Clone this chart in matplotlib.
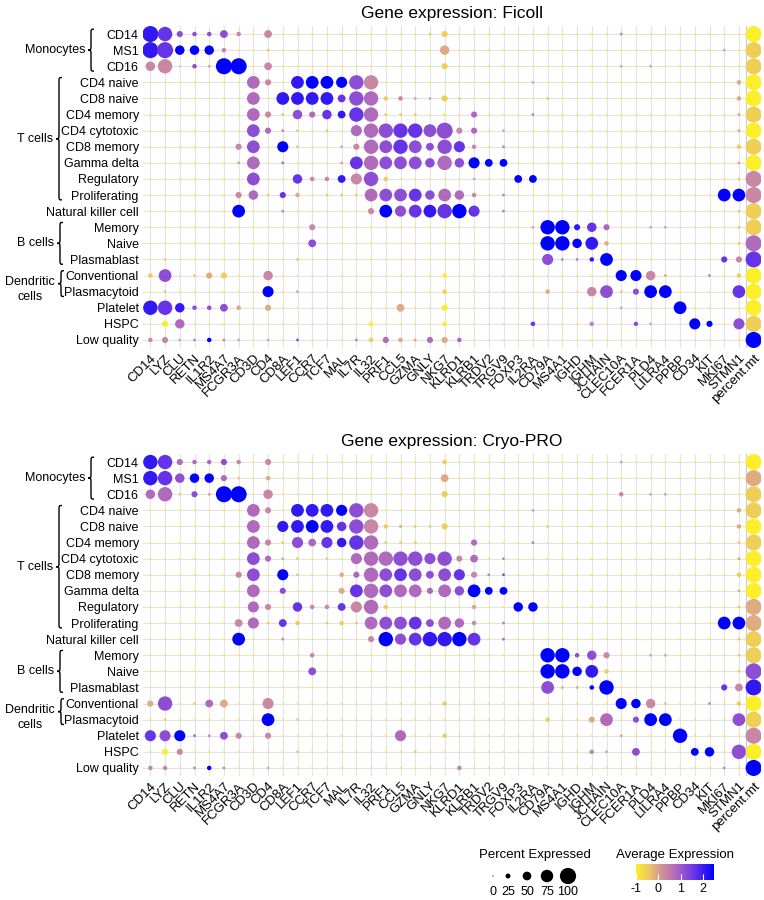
import numpy as np
import matplotlib
matplotlib.use('Agg')
import matplotlib.pyplot as plt
from matplotlib.colors import LinearSegmentedColormap, Normalize
from matplotlib.path import Path
from matplotlib.patches import PathPatch
from matplotlib.transforms import blended_transform_factory

plt.rcParams['font.family'] = ['Liberation Sans', 'DejaVu Sans']
plt.rcParams['axes.unicode_minus'] = False

GENES = ['CD14', 'LYZ', 'CLU', 'RETN', 'IL1R2', 'MS4A7', 'FCGR3A', 'CD3D', 'CD4', 'CD8A',
         'LEF1', 'CCR7', 'TCF7', 'MAL', 'IL7R', 'IL32', 'PRF1', 'CCL5', 'GZMA', 'GNLY',
         'NKG7', 'KLRD1', 'KLRB1', 'TRDV2', 'TRGV9', 'FOXP3', 'IL2RA', 'CD79A', 'MS4A1',
         'IGHD', 'IGHM', 'JCHAIN', 'CLEC10A', 'FCER1A', 'PLD4', 'LILRA4', 'PPBP', 'CD34',
         'KIT', 'MKI67', 'STMN1', 'percent.mt']
ROWS = ['CD14', 'MS1', 'CD16', 'CD4 naive', 'CD8 naive', 'CD4 memory', 'CD4 cytotoxic',
        'CD8 memory', 'Gamma delta', 'Regulatory', 'Proliferating', 'Natural killer cell',
        'Memory', 'Naive', 'Plasmablast', 'Conventional', 'Plasmacytoid', 'Platelet',
        'HSPC', 'Low quality']
GROUPS = [('Monocytes', 0, 2), ('T cells', 3, 10), ('B cells', 12, 14), ('Dendritic\ncells', 15, 16)]

# "col:SK" -> S = percent level (x11 %), K = expression level (-1 + K*0.4375); others tiny
FICOLL = [
    "0:97 1:86 2:35 3:25 4:25 5:45 6:23 8:43 19:11 20:31 32:13 41:90",
    "0:97 1:96 2:58 3:58 4:58 5:23 8:11 20:52 39:12 41:91",
    "0:53 1:83 2:01 3:25 4:12 5:98 6:98 8:43 20:31 32:12 34:12 41:91",
    "7:74 8:33 10:77 11:78 12:78 13:68 14:85 15:83 26:12 40:22 41:90",
    "7:74 9:77 10:77 11:77 12:77 13:46 14:85 15:84 16:21 17:23 18:12 19:12 20:31 21:11 27:11 40:22 41:90",
    "7:74 8:33 9:11 10:55 11:34 12:56 13:47 14:86 15:84 16:11 17:11 18:11 20:10 22:34 26:13 40:12 41:91",
    "7:75 8:34 9:13 10:11 12:11 14:64 15:84 16:85 17:86 18:86 19:75 20:95 21:33 22:34 24:12 40:12 41:90",
    "6:33 7:75 9:68 10:11 13:12 14:33 15:84 16:75 17:86 18:75 19:45 20:85 21:66 22:23 24:13 40:21 41:91",
    "6:12 7:74 9:14 13:12 14:76 15:84 16:75 17:75 18:75 19:55 20:84 21:55 22:68 23:48 24:48 40:12 41:90",
    "7:75 10:56 11:23 12:23 13:47 14:63 15:85 16:21 22:12 25:48 26:48 40:11 41:93",
    "6:33 7:54 8:11 9:36 10:22 12:11 13:11 14:11 15:74 16:75 17:75 18:76 19:55 20:74 21:54 22:23 24:13 39:78 40:78 41:93",
    "6:78 9:13 15:33 16:78 17:65 18:76 19:77 20:86 21:88 22:66 24:13 40:11 41:91",
    "11:33 26:12 27:88 28:88 29:37 30:56 31:34 34:12 35:12 40:11 41:91",
    "11:45 27:88 28:88 29:58 30:77 31:22 40:11 41:94",
    "1:11 10:11 27:65 28:13 29:13 30:27 31:78 39:36 40:33 41:96",
    "0:21 1:75 3:11 4:32 5:31 8:53 20:20 32:68 33:68 34:53 35:12 38:13 40:21 41:90",
    "1:11 8:68 10:12 20:21 27:22 30:53 31:75 32:11 33:35 34:78 35:78 40:76 41:90",
    "0:87 1:86 2:57 3:25 4:25 5:45 6:22 8:32 17:42 20:30 32:12 36:78 41:90",
    "1:30 2:54 15:20 20:20 26:26 30:23 33:25 34:12 37:68 38:38 40:65 41:91",
    "0:23 1:33 2:12 3:13 4:28 5:13 6:12 8:12 10:15 14:13 15:21 16:34 17:22 18:12 19:34 20:32 21:24 41:98",
]
CRYO = [
    "0:87 1:86 2:34 3:24 4:24 5:35 6:23 8:33 20:21 32:12 41:90",
    "0:87 1:86 2:55 3:58 4:58 5:34 6:11 8:22 20:42 41:92",
    "0:54 1:84 2:11 3:35 4:12 5:98 6:98 8:53 20:31 32:23 34:12 35:12 41:91",
    "7:74 8:33 10:77 11:77 12:77 13:68 14:85 15:83 26:12 40:22 41:91",
    "7:74 9:67 10:77 11:78 12:77 13:56 14:85 15:83 16:21 17:12 18:11 19:11 20:31 27:11 40:22 41:90",
    "7:74 8:33 9:11 10:65 11:44 12:66 13:57 14:86 15:84 16:11 17:11 18:11 22:34 26:13 40:11 41:91",
    "7:75 8:34 9:12 10:11 12:11 14:64 15:84 16:84 17:85 18:85 19:65 20:85 21:33 22:44 24:13 40:12 41:90",
    "6:33 7:75 9:68 10:11 13:22 14:34 15:84 16:75 17:76 18:75 19:45 20:75 21:66 22:33 23:13 24:15 40:21 41:90",
    "7:74 9:35 13:32 14:76 15:84 16:75 17:74 18:74 19:34 20:74 21:55 22:78 23:48 24:48 40:12 41:90",
    "7:64 8:33 10:56 11:23 12:23 13:46 14:63 15:84 16:21 22:22 25:58 26:58 40:11 41:92",
    "6:43 7:64 8:11 9:46 10:21 12:11 13:21 14:11 15:74 16:75 17:75 18:76 19:45 20:74 21:54 22:23 24:13 39:78 40:78 41:92",
    "6:78 9:13 15:33 16:88 17:65 18:76 19:87 20:87 21:88 22:76 24:14 40:11 41:91",
    "11:23 27:88 28:88 29:25 30:55 31:33 34:12 35:12 40:11 41:91",
    "11:45 27:88 28:88 29:58 30:77 31:21 40:11 41:95",
    "27:75 28:12 29:12 30:28 31:88 39:36 40:43 41:97",
    "0:32 1:85 3:11 4:44 5:42 8:63 20:21 32:68 33:58 34:53 35:11 38:13 40:21 41:90",
    "1:11 8:78 10:11 27:21 30:32 31:74 33:35 34:78 35:78 40:75 41:91",
    "0:66 1:65 2:68 3:14 4:13 5:45 6:33 8:33 17:64 20:21 32:12 36:88 41:93",
    "1:30 2:33 10:11 18:11 30:23 31:12 33:45 37:48 38:58 40:85 41:90",
    "0:23 1:23 3:13 4:28 5:13 8:12 21:23 39:13 41:98",
]
PANELS = [('Gene expression: Ficoll', FICOLL), ('Gene expression: Cryo-PRO', CRYO)]
LEGEND_PCT = [0, 25, 50, 75, 100]

W, H = 764, 900
cmap = LinearSegmentedColormap.from_list('expr', [
    (0.0, '#fbef2a'), (0.19, '#e9bd6e'), (0.34, '#d0909c'), (0.54, '#a961c4'),
    (0.74, '#6c36e6'), (1.0, '#0000ff')])
norm = Normalize(-1, 2.5)


def parse(rows):
    pct = np.full((len(ROWS), len(GENES)), 5.0)
    avg = np.full((len(ROWS), len(GENES)), -1.0)
    for i, r in enumerate(rows):
        for tok in r.split():
            c, v = tok.split(':')
            pct[i, int(c)] = max(int(v[0]) * 11, 6)
            avg[i, int(c)] = -1 + int(v[1]) * 0.4375
    return pct, avg


def dot_size(p):
    d = (1.2 + 0.15 * np.asarray(p)) * 0.72
    return d ** 2


def brace(fig, ax, xpx, y0, y1, w=6):
    tr = blended_transform_factory(fig.transFigure, ax.transData)
    x0 = xpx / W
    h = w / 2 / W
    xm = x0 - h
    xt = x0 - 2 * h
    ym = (y0 + y1) / 2
    r = 0.35
    verts = [(x0, y0), (xm, y0), (xm, y0), (xm, y0 + r),
             (xm, ym - r), (xm, ym), (xm, ym), (xt, ym),
             (xm, ym), (xm, ym), (xm, ym + r),
             (xm, y1 - r), (xm, y1), (xm, y1), (x0, y1)]
    codes = [Path.MOVETO, Path.CURVE4, Path.CURVE4, Path.CURVE4,
             Path.LINETO, Path.CURVE4, Path.CURVE4, Path.CURVE4,
             Path.CURVE4, Path.CURVE4, Path.CURVE4,
             Path.LINETO, Path.CURVE4, Path.CURVE4, Path.CURVE4]
    ax.add_patch(PathPatch(Path(verts, codes), transform=tr, fill=False,
                           lw=1.0, color='black', clip_on=False))
    return xt


fig = plt.figure(figsize=(W / 100, H / 100), dpi=100)
brace_x = {'Monocytes': 94, 'T cells': 62, 'B cells': 63, 'Dendritic\ncells': 64}
tops = [26, 454]

for (title, rows), top in zip(PANELS, tops):
    pct, avg = parse(rows)
    ax = fig.add_axes([143 / W, 1 - (top + 322) / H, 618 / W, 322 / H])
    xx, yy = np.meshgrid(np.arange(len(GENES)), np.arange(len(ROWS)))
    ax.scatter(xx.ravel(), yy.ravel(), s=dot_size(pct.ravel()), c=avg.ravel(),
               cmap=cmap, norm=norm, linewidths=0, zorder=3)
    ax.set_xlim(-0.5, len(GENES) - 0.5)
    ax.set_ylim(len(ROWS) - 0.5, -0.5)
    ax.set_xticks(range(len(GENES)))
    ax.set_xticklabels(GENES, rotation=45, ha='right', rotation_mode='anchor', fontsize=9.5)
    ax.set_yticks(range(len(ROWS)))
    ax.set_yticklabels(ROWS, fontsize=9)
    ax.tick_params(length=0, pad=3)
    ax.grid(True, color='#e3e3e3', lw=0.8, zorder=0)
    ax.axvline(40.5, color='#cccccc', lw=0.8, zorder=1)
    for s in ax.spines.values():
        s.set_visible(False)
    ax.set_title(title, fontsize=12.5, pad=6)
    tr = blended_transform_factory(fig.transFigure, ax.transData)
    for name, a, b in GROUPS:
        xl = brace(fig, ax, brace_x[name], a - 0.3, b + 0.3)
        if '\n' in name:
            ax.text(30 / W, (a + b) / 2 + 0.35, name, transform=tr, ha='center',
                    va='center', fontsize=9, clip_on=False, linespacing=1.3)
        else:
            ax.text(xl - 3 / W, (a + b) / 2, name, transform=tr, ha='right',
                    va='center', fontsize=9, clip_on=False)

# size legend
lax = fig.add_axes([470 / W, 0, 130 / W, 60 / H])
lax.set_xlim(470, 600)
lax.set_ylim(900, 840)
lax.axis('off')
lx = [493, 508, 527, 547, 568]
lax.scatter(lx, [876] * 5, s=dot_size(LEGEND_PCT), color='black', linewidths=0)
for x, p in zip(lx, LEGEND_PCT):
    lax.text(x, 892, str(p), ha='center', va='center', fontsize=9)
lax.text(535, 855, 'Percent Expressed', ha='center', va='center', fontsize=9.5)

# colour bar
cax = fig.add_axes([636 / W, 1 - 880 / H, 78 / W, 16 / H])
cb = fig.colorbar(plt.cm.ScalarMappable(norm=norm, cmap=cmap), cax=cax, orientation='horizontal')
cb.set_ticks([-1, 0, 1, 2])
cb.outline.set_visible(False)
cax.tick_params(length=4, color='white', direction='in', labelsize=9, pad=2)
fig.text(675 / W, 1 - 855 / H, 'Average Expression', ha='center', va='center', fontsize=9.5)

fig.savefig('out.png', dpi=100)
